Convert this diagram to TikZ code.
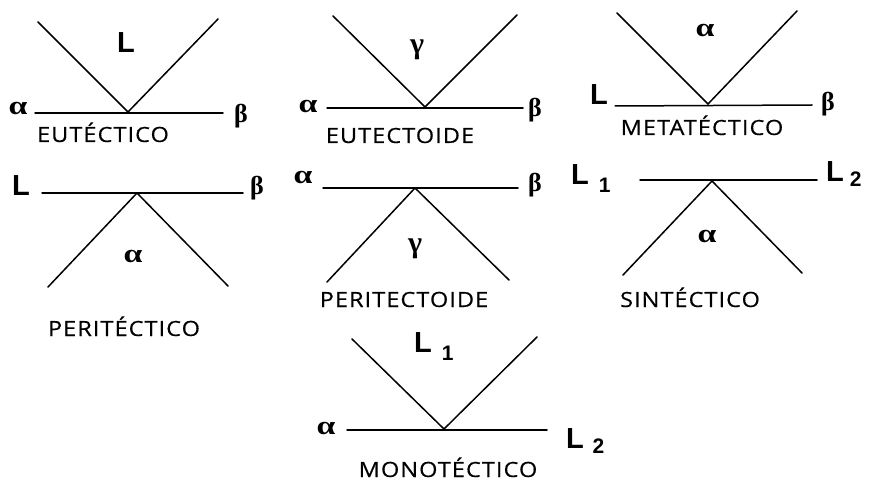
\documentclass[tikz,border=0pt]{standalone}
\usepackage{fontspec}
\setmainfont{Open Sans}
\newfontfamily\capfont[FakeStretch=1.12,LetterSpace=5,FakeBold=0.4]{Open Sans}
\newfontfamily\liqfont{Liberation Sans}
\newfontfamily\greekfont{Liberation Serif}
\usetikzlibrary{positioning}

\newcommand{\alfa}{\scalebox{1.3}[1]{α}}
\newcommand{\gama}{\scalebox{1.15}{γ}}
\newcommand{\Lsub}[3]{L\hspace{#1}\raisebox{-#2}{\fontsize{21}{21}\selectfont #3}}

\begin{document}
\begin{tikzpicture}[
  x=1pt, y=-1pt,
  line/.style={line width=1.5pt, line cap=round},
  phase/.style={inner sep=0pt, anchor=base, font=\greekfont\bfseries\fontsize{26}{26}\selectfont},
  liq/.style={inner sep=0pt, anchor=base, font=\liqfont\bfseries\fontsize{29}{29}\selectfont},
  liqsub/.style={liq, anchor=base west},
  caption/.style={inner sep=0pt, anchor=base, font=\capfont\fontsize{21}{21}\selectfont}
]
\useasboundingbox (0,0) rectangle (872,481);

\coordinate (eu) at (128,112);
\coordinate (euTL) at (38,22);
\coordinate (euTR) at (218,19);
\coordinate (euL) at (35,113);
\coordinate (euR) at (223,113);
\node[phase] (euA) at (18,115) {\alfa};
\node[phase] (euB) at (241,123) {β};
\node[liq] (euLiq) at (126,53) {L};
\node[caption] (euName) at (103,142) {EUTÉCTICO};
\draw[line] (euTL) -- (eu) -- (euTR);
\draw[line] (euL) -- (euR);

\coordinate (ed) at (425,107);
\coordinate (edTL) at (333,16);
\coordinate (edTR) at (517,15);
\coordinate (edL) at (327,108);
\coordinate (edR) at (523,108);
\node[phase] (edA) at (308,113) {\alfa};
\node[phase] (edB) at (535,117) {β};
\node[phase] (edG) at (417,54) {\gama};
\node[caption] (edName) at (400,143) {EUTECTOIDE};
\draw[line] (edTL) -- (ed) -- (edTR);
\draw[line] (edL) -- (edR);

\coordinate (mt) at (708,104);
\coordinate (mtTL) at (617,13);
\coordinate (mtTR) at (797,11);
\coordinate (mtL) at (615,106);
\coordinate (mtR) at (812,105);
\node[liq] (mtLiq) at (599,105) {L};
\node[phase] (mtB) at (828,111) {β};
\node[phase] (mtA) at (705,37) {\alfa};
\node[caption] (mtName) at (702,135) {METATÉCTICO};
\draw[line] (mtTL) -- (mt) -- (mtTR);
\draw[line] (mtL) -- (mtR);

\coordinate (pt) at (137,193);
\coordinate (ptBL) at (48,287);
\coordinate (ptBR) at (228,286);
\coordinate (ptL) at (42,193);
\coordinate (ptR) at (243,193);
\node[liq] (ptLiq) at (21,195) {L};
\node[phase] (ptB) at (257,194) {β};
\node[phase] (ptA) at (133,262) {\alfa};
\node[caption] (ptName) at (124,336) {PERITÉCTICO};
\draw[line] (ptBL) -- (pt) -- (ptBR);
\draw[line] (ptL) -- (ptR);

\coordinate (pd) at (415,188);
\coordinate (pdBL) at (327,282);
\coordinate (pdBR) at (509,280);
\coordinate (pdL) at (323,188);
\coordinate (pdR) at (518,188);
\node[phase] (pdA) at (303,184) {\alfa};
\node[phase] (pdB) at (535,192) {β};
\node[phase] (pdG) at (415,252) {\gama};
\node[caption] (pdName) at (404,307) {PERITECTOIDE};
\draw[line] (pdBL) -- (pd) -- (pdBR);
\draw[line] (pdL) -- (pdR);

\coordinate (st) at (712,181);
\coordinate (stBL) at (623,275);
\coordinate (stBR) at (802,273);
\coordinate (stL) at (640,180);
\coordinate (stR) at (817,180);
\node[liqsub] (stL1) at (571,185) {\Lsub{10pt}{8pt}{1}};
\node[liqsub] (stL2) at (826,182) {\Lsub{6pt}{5pt}{2}};
\node[phase] (stA) at (707,242) {\alfa};
\node[caption] (stName) at (690,307) {SINTÉCTICO};
\draw[line] (stBL) -- (st) -- (stBR);
\draw[line] (stL) -- (stR);

\coordinate (mn) at (444,429);
\coordinate (mnTL) at (352,339);
\coordinate (mnTR) at (537,337);
\coordinate (mnL) at (347,430);
\coordinate (mnR) at (547,430);
\node[phase] (mnA) at (326,434) {\alfa};
\node[liqsub] (mnL1) at (414,352) {\Lsub{10pt}{8pt}{1}};
\node[liqsub] (mnL2) at (566,448) {\Lsub{8.6pt}{5pt}{2}};
\node[caption] (mnName) at (448,477) {MONOTÉCTICO};
\draw[line] (mnTL) -- (mn) -- (mnTR);
\draw[line] (mnL) -- (mnR);
\end{tikzpicture}
\end{document}
